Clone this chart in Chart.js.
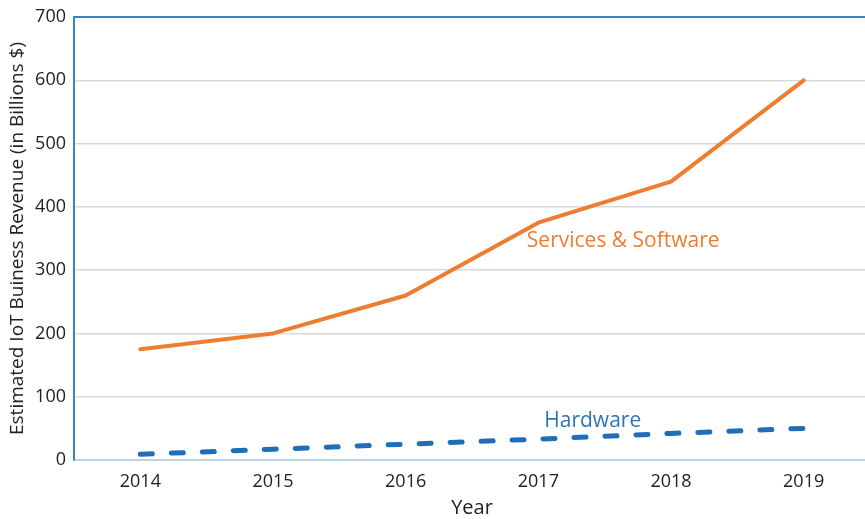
<!DOCTYPE html>
<html>
<head>
<meta charset="utf-8">
<script src="https://cdn.jsdelivr.net/npm/chart.js@4"></script>
<style>
  html, body { margin: 0; padding: 0; background: #fff; overflow: hidden; }
  #wrap { width: 870px; height: 519px; }
</style>
</head>
<body>
<div id="wrap"><canvas id="chart"></canvas></div>
<script>
const years = ["2014", "2015", "2016", "2017", "2018", "2019"];
const servicesSoftware = [175, 200, 260, 375, 440, 600];
const hardware = [9, 17, 25, 33, 42, 50];
const yTicks = [0, 100, 200, 300, 400, 500, 600, 700];

const FONT = "'Open Sans', Lato, sans-serif";
const ORANGE = "#ED7D31";
const BLUE = "#1F6FB8";
const AXIS_BLUE = "#3E82C4";

// series names written next to the lines, placed in data coordinates
const seriesLabels = {
  id: "seriesLabels",
  afterDatasetsDraw(chart) {
    const { ctx, scales } = chart;
    ctx.save();
    ctx.font = "21px " + FONT;
    ctx.textAlign = "center";
    ctx.textBaseline = "middle";
    ctx.fillStyle = ORANGE;
    ctx.fillText("Services & Software", scales.x.getPixelForValue(3.64), scales.y.getPixelForValue(346));
    ctx.fillStyle = "#2E75B6";
    ctx.fillText("Hardware", scales.x.getPixelForValue(3.41), scales.y.getPixelForValue(61));
    ctx.restore();
  },
};

new Chart(document.getElementById("chart"), {
  type: "line",
  data: {
    labels: years,
    datasets: [
      {
        label: "Services & Software",
        data: servicesSoftware,
        borderColor: ORANGE,
        borderWidth: 4,
        pointRadius: 0,
        tension: 0,
        borderCapStyle: "round",
        borderJoinStyle: "round",
      },
      {
        label: "Hardware",
        data: hardware,
        borderColor: BLUE,
        borderWidth: 5,
        borderDash: [12, 19],
        borderCapStyle: "round",
        pointRadius: 0,
        tension: 0,
      },
    ],
  },
  options: {
    responsive: true,
    maintainAspectRatio: false,
    animation: false,
    layout: { padding: { top: 6, right: 0, left: 0, bottom: 0 } },
    plugins: {
      legend: { display: false },
      tooltip: { enabled: false },
    },
    scales: {
      x: {
        offset: true,
        grid: { display: false, offset: true },
        border: { display: true, color: "#BDD3E8", width: 2 },
        ticks: { color: "#222", font: { family: FONT, size: 18, lineHeight: 1 }, padding: 5 },
        title: { display: true, text: "Year", color: "#222", font: { family: FONT, size: 20, lineHeight: 1 }, padding: { top: 4, bottom: 1 } },
        afterFit(scale) { scale.height = 59; },
      },
      y: {
        min: 0,
        max: 700,
        afterBuildTicks(scale) { scale.ticks = yTicks.map((v) => ({ value: v })); },
        grid: {
          drawTicks: false,
          color: (c) => (c.tick && c.tick.value === 700 ? AXIS_BLUE : c.tick && c.tick.value === 0 ? "rgba(0,0,0,0)" : "#D9D9D9"),
          lineWidth: (c) => (c.tick && c.tick.value === 700 ? 2 : 1.5),
        },
        border: { display: true, color: AXIS_BLUE, width: 2 },
        ticks: { color: "#222", font: { family: FONT, size: 18, lineHeight: 1 }, padding: 8 },
        title: {
          display: true,
          text: "Estimated IoT Buiness Revenue (in Billions $)",
          color: "#222",
          font: { family: FONT, size: 19 },
          padding: { top: 6, bottom: 0 },
        },
        afterFit(scale) { scale.width = 74; },
      },
    },
  },
  plugins: [seriesLabels],
});
</script>
</body>
</html>
